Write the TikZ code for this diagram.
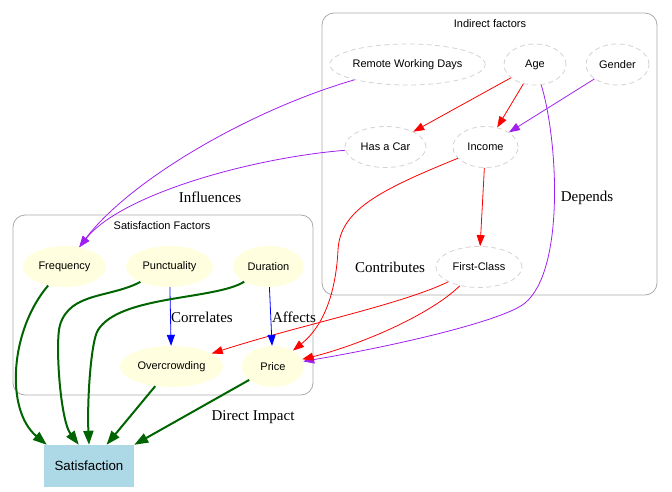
\documentclass[tikz,border=0pt]{standalone}
\usepackage{fontspec}
\setmainfont{Liberation Sans}
\newfontfamily\edgefont{Liberation Serif}
\usetikzlibrary{shapes.geometric,arrows.meta}
\definecolor{gvpurple}{HTML}{A020F0}
\definecolor{gvgreen}{HTML}{006400}
\definecolor{gvyellow}{HTML}{FFFFE0}
\definecolor{gvblue}{HTML}{ADD8E6}
\definecolor{gvgray}{HTML}{AAAAAA}
\definecolor{gvdash}{HTML}{D3D3D3}
\tikzset{
	factor/.style={ellipse,fill=gvyellow,inner sep=0pt,minimum height=41pt,font=\fontsize{11}{13}\selectfont},
	indirect/.style={ellipse,draw=gvdash,dash pattern=on 5pt off 3.5pt,line width=0.8pt,inner sep=0pt,minimum height=41pt,font=\fontsize{11}{13}\selectfont},
	cluster/.style={draw=gvgray,rounded corners=12pt,line width=0.8pt},
	cluster label/.style={font=\fontsize{11}{13}\selectfont},
	thin edge/.style={-{Triangle[length=11pt,width=8pt]},line width=0.8pt},
	thick edge/.style={-{Triangle[length=14pt,width=10pt]},line width=2pt,gvgreen},
	edge label/.style={font=\edgefont\fontsize{15}{18}\selectfont},
}

\begin{document}
\begin{tikzpicture}[x=1pt,y=-1pt]
		\useasboundingbox (0,0) rectangle (672,491);
		\draw[cluster] (322,13) rectangle (657,295);
		\node[cluster label] (indlbl) at (490,24) {Indirect factors};
		\draw[cluster] (13,215) rectangle (313,395);
		\node[cluster label] (satlbl) at (162,226) {Satisfaction Factors};
		\node[indirect,minimum width=153pt] (rwd) at (407.5,64.5) {Remote Working Days};
		\node[indirect,minimum width=62pt] (age) at (535,64.5) {Age};
		\node[indirect,minimum width=63pt] (gender) at (617.5,64.5) {Gender};
		\node[indirect,minimum width=81pt] (hascar) at (385.5,147) {Has a Car};
		\node[indirect,minimum width=65pt] (income) at (485.5,147) {Income};
		\node[indirect,minimum width=86pt] (fc) at (479,267) {First-Class};
		\node[factor,minimum width=83pt] (freq) at (64.5,266.5) {Frequency};
		\node[factor,minimum width=87pt] (punct) at (169.5,266.5) {Punctuality};
		\node[factor,minimum width=71pt] (dur) at (268.5,266.5) {Duration};
		\node[factor,minimum width=103pt] (overcrowd) at (171.5,366.5) {Overcrowding};
		\node[factor,minimum width=62pt] (price) at (273,366.5) {Price};
		\node[rectangle,fill=gvblue,minimum width=90pt,minimum height=42pt,font=\fontsize{13.3}{15}\selectfont] (sat) at (89,466) {Satisfaction};
		\draw[thin edge,gvpurple] (rwd) .. controls (250,110) and (130,180) .. (freq);
		\draw[thin edge,gvpurple] (hascar) .. controls (250,158) and (120,195) .. (freq);
		\draw[thin edge,gvpurple] (age) .. controls (558,140) and (565,270) .. (525,303) .. controls (505,320) and (400,345) .. (price);
		\draw[thin edge,gvpurple] (gender) -- (income);
		\draw[thin edge,red] (age) -- (hascar);
		\draw[thin edge,red] (age) -- (income);
		\draw[thin edge,red] (income) .. controls (380,190) and (340,210) .. (338,250) .. controls (336,290) and (325,325) .. (price);
		\draw[thin edge,red] (income) -- (fc);
		\draw[thin edge,red] (fc) .. controls (400,305) and (300,325) .. (overcrowd);
		\draw[thin edge,red] (fc) .. controls (430,315) and (360,345) .. (price);
		\draw[thin edge,blue] (punct) -- (overcrowd);
		\draw[thin edge,blue] (dur) -- (price);
		\draw[thick edge] (freq) .. controls (10,330) and (5,410) .. ([xshift=3pt]sat.north west);
		\draw[thick edge] (punct) .. controls (110,298) and (70,292) .. (60,325) .. controls (55,341) and (60,420) .. ([xshift=35pt]sat.north west);
		\draw[thick edge] (dur) .. controls (215,300) and (120,295) .. (98,330) .. controls (91,341) and (87,400) .. (sat.north);
		\draw[thick edge] (overcrowd) -- (sat);
		\draw[thick edge] (price) -- (sat.north east);
		\node[edge label] (lblinfl) at (210,197) {Influences};
		\node[edge label] (lbldep) at (587,198) {Depends};
		\node[edge label] (lblcontr) at (390,267) {Contributes};
		\node[edge label] (lblcorr) at (202,317) {Correlates};
		\node[edge label] (lblaff) at (294,317) {Affects};
		\node[edge label] (lbldir) at (253,417) {Direct Impact};
	\end{tikzpicture}
\end{document}
